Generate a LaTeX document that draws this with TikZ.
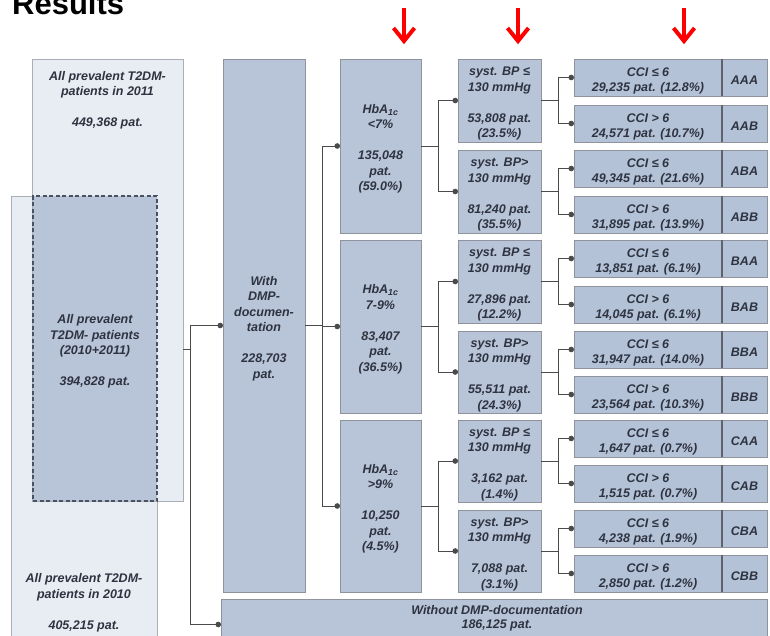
\documentclass[tikz,border=0pt]{standalone}
\usepackage{fontspec}
\setmainfont{Liberation Sans}
\usetikzlibrary{fit,arrows.meta}

\definecolor{paleBox}{HTML}{E8ECF3}
\definecolor{paleEdge}{HTML}{A9AEB7}
\definecolor{midBox}{HTML}{B8C4D8}
\definecolor{cciFill}{HTML}{B4C2D8}
\definecolor{edgeGray}{HTML}{8E939C}
\definecolor{sepGray}{HTML}{5E636C}
\definecolor{lineGray}{HTML}{4A4A4A}
\definecolor{dashInk}{HTML}{4A5262}
\definecolor{inkText}{HTML}{2E3340}
\definecolor{alertRed}{HTML}{FF0000}

\newcommand\boxfont{\fontsize{12.5}{15.5}\selectfont\bfseries\itshape}
\newcommand\ccifont{\fontsize{12.5}{15}\selectfont\bfseries\itshape}
\newcommand\gap{\\[15.5pt]}

% a framed box spanning two corners, with its text centred inside
% #1 style, #2 name, #3 top-left, #4 bottom-right, #5 text
\newcommand\framed[5]{%
  \node[#1, fit={#3 #4}] (#2) {};
  \node[txt] (#2text) at (#2.center) {#5};
}

% one CCI row: #1 name, #2 top edge, #3 condition, #4 count, #5 group code
\newcommand\cciRow[5]{%
  \node[ccibox, fit={(574,#2) (722,#2+37)}] (#1) {};
  \node[ccibox, fit={(722,#2) (767,#2+37)}] (#1code) {};
  \draw[sepline] (#1code.north west) -- (#1code.south west);
  \node[txt, font=\ccifont] (#1text) at (#1.center) {#3\\#4};
  \node[txt, font=\ccifont] (#1codetext) at (#1code.center) {#5};
}

\begin{document}
\begin{tikzpicture}[x=1pt,y=-1pt,
  box/.style={draw=edgeGray, line width=0.9pt, inner sep=0pt, outer sep=0pt},
  pale/.style={box, fill=paleBox, draw=paleEdge},
  mid/.style={box, fill=midBox},
  overlapbox/.style={box, fill=midBox, draw=dashInk, line width=1.6pt,
    dash pattern=on 4pt off 2.5pt},
  ccibox/.style={box, fill=cciFill},
  sepline/.style={draw=sepGray, line width=1.8pt},
  txt/.style={align=center, text=inkText, font=\boxfont, inner sep=0pt, yshift=-3pt},
  plain/.style={draw=lineGray, line width=0.8pt},
  conn/.style={plain, -{Circle[length=5.5pt]}},
  redshaft/.style={draw=alertRed, line width=4pt},
  title/.style={font=\fontsize{31}{31}\selectfont\bfseries, text=black, inner sep=0pt}
]
\useasboundingbox (0,0) rectangle (770,635);
\clip (0,0) rectangle (770,635);

% heading
\node[title, anchor=base west] (heading) at (12,14) {Results};

% red markers above the stratification levels
\foreach \nm/\xx in {markA/404, markB/518, markC/684}{
  \coordinate (\nm) at (\xx,8);
  \draw[redshaft] (\nm) -- ++(0,33);
  \draw[redshaft, line join=miter, miter limit=10]
    ([shift={(-10.5,20)}]\nm) -- ([shift={(0,33)}]\nm) -- ([shift={(10.5,20)}]\nm);
}

% populations 2010 / 2011 and their overlap
\node[pale, fit={(11,196) (157,650)}] (y2010) {};
\node[pale, fit={(32,59) (183,501)}] (y2011) {};
\framed{overlapbox}{both}{(33,196)}{(157,501)}
  {All prevalent\\T2DM- patients\\(2010+2011)\gap 394,828 pat.}
\node[txt] (t2011) at (107.5,97.5) {All prevalent T2DM-\\patients in 2011\gap 449,368 pat.};
\node[txt] (t2010) at (84,600) {All prevalent T2DM-\\patients in 2010\gap 405,215 pat.};

% DMP documentation
\framed{mid}{with}{(223,59)}{(305,592)}
  {With\\DMP-\\documen-\\tation\gap 228,703\\pat.}
\node[mid, fit={(221,599) (767,650)}] (without) {};
\node[txt, font=\fontsize{12.5}{14}\selectfont\bfseries\itshape] (withoutText) at (497,615)
  {Without DMP-documentation\\186,125 pat.};

% HbA1c level
\framed{mid}{hA}{(340,59)}{(421,233)}
  {HbA\textsubscript{1c}\\<7\%\gap 135,048\\pat.\\(59.0\%)}
\framed{mid}{hB}{(340,240)}{(421,413)}
  {HbA\textsubscript{1c}\\7-9\%\gap 83,407\\pat.\\(36.5\%)}
\framed{mid}{hC}{(340,420)}{(421,592)}
  {HbA\textsubscript{1c}\\>9\%\gap 10,250\\pat.\\(4.5\%)}

% blood pressure level
\framed{mid}{bAA}{(458,59)}{(541,142)}  {syst. BP ≤\\130 mmHg\gap 53,808 pat.\\(23.5\%)}
\framed{mid}{bAB}{(458,150)}{(541,233)} {syst. BP>\\130 mmHg\gap 81,240 pat.\\(35.5\%)}
\framed{mid}{bBA}{(458,240)}{(541,323)} {syst. BP ≤\\130 mmHg\gap 27,896 pat.\\(12.2\%)}
\framed{mid}{bBB}{(458,331)}{(541,413)} {syst. BP>\\130 mmHg\gap 55,511 pat.\\(24.3\%)}
\framed{mid}{bCA}{(458,420)}{(541,502)} {syst. BP ≤\\130 mmHg\gap 3,162 pat.\\(1.4\%)}
\framed{mid}{bCB}{(458,510)}{(541,592)} {syst. BP>\\130 mmHg\gap 7,088 pat.\\(3.1\%)}

% comorbidity level
\cciRow{cAAA}{59}{CCI ≤ 6}{29,235 pat. (12.8\%)}{AAA}
\cciRow{cAAB}{105}{CCI > 6}{24,571 pat. (10.7\%)}{AAB}
\cciRow{cABA}{150}{CCI ≤ 6}{49,345 pat. (21.6\%)}{ABA}
\cciRow{cABB}{196}{CCI > 6}{31,895 pat. (13.9\%)}{ABB}
\cciRow{cBAA}{240}{CCI ≤ 6}{13,851 pat. (6.1\%)}{BAA}
\cciRow{cBAB}{286}{CCI > 6}{14,045 pat. (6.1\%)}{BAB}
\cciRow{cBBA}{331}{CCI ≤ 6}{31,947 pat. (14.0\%)}{BBA}
\cciRow{cBBB}{376}{CCI > 6}{23,564 pat. (10.3\%)}{BBB}
\cciRow{cCAA}{420}{CCI ≤ 6}{1,647 pat. (0.7\%)}{CAA}
\cciRow{cCAB}{465}{CCI > 6}{1,515 pat. (0.7\%)}{CAB}
\cciRow{cCBA}{510}{CCI ≤ 6}{4,238 pat. (1.9\%)}{CBA}
\cciRow{cCBB}{555}{CCI > 6}{2,850 pat. (1.2\%)}{CBB}

% connectors
\coordinate (split) at (190,349);
\draw[plain] (y2011.east |- split) -- (split);
\draw[conn] (split) |- (with.west);
\draw[conn] (split) |- (without.west);

\foreach \h in {hA,hB,hC}{
  \draw[conn] (with.east) -- ++(17,0) |- (\h.west);
}
\foreach \g in {A,B,C}{
  \draw[conn] (h\g.east) -- ++(17,0) |- (b\g A.west);
  \draw[conn] (h\g.east) -- ++(17,0) |- (b\g B.west);
  \foreach \s in {A,B}{
    \draw[conn] (b\g\s.east) -- ++(17,0) |- (c\g\s A.west);
    \draw[conn] (b\g\s.east) -- ++(17,0) |- (c\g\s B.west);
  }
}
\end{tikzpicture}
\end{document}
